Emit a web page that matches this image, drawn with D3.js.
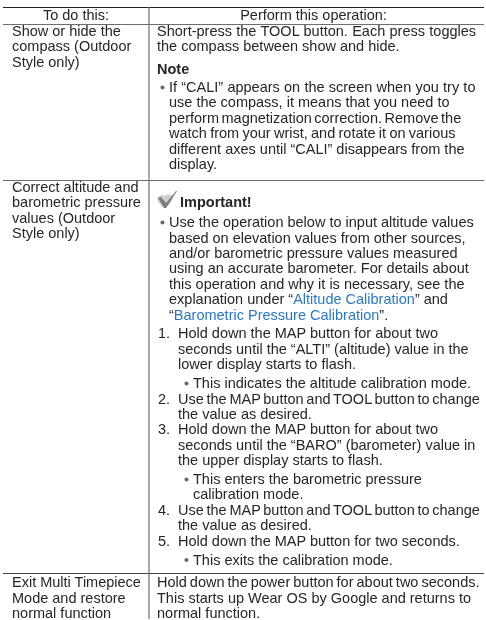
<!DOCTYPE html>
<html><head><meta charset="utf-8">
<script src="https://cdn.jsdelivr.net/npm/d3@7"></script>
<style>html,body{margin:0;padding:0;background:#fff}svg{display:block}</style>
</head><body><div id="c"></div>
<script>
const headers = ["To do this:", "Perform this operation:"];
const leftRows = [
  ["Show or hide the", "compass (Outdoor", "Style only)"],
  ["Correct altitude and", "barometric pressure", "values (Outdoor", "Style only)"],
  ["Exit Multi Timepiece", "Mode and restore", "normal function"]
];
const rightRow1 = [
  ["p", "Short-press the TOOL button. Each press toggles"],
  ["p", "the compass between show and hide."],
  ["h", "Note"],
  ["b", "If “CALI” appears on the screen when you try to"],
  ["c", "use the compass, it means that you need to"],
  ["c", "perform magnetization correction. Remove the"],
  ["c", "watch from your wrist, and rotate it on various"],
  ["c", "different axes until “CALI” disappears from the"],
  ["c", "display."]
];
const rightRow2 = [
  ["i", "Important!"],
  ["b", "Use the operation below to input altitude values"],
  ["c", "based on elevation values from other sources,"],
  ["c", "and/or barometric pressure values measured"],
  ["c", "using an accurate barometer. For details about"],
  ["c", "this operation and why it is necessary, see the"],
  ["c", "explanation under “|Altitude Calibration|” and"],
  ["c", "“|Barometric Pressure Calibration|”."],
  ["n", "Hold down the MAP button for about two", "1."],
  ["m", "seconds until the “ALTI” (altitude) value in the"],
  ["m", "lower display starts to flash."],
  ["s", "This indicates the altitude calibration mode."],
  ["n", "Use the MAP button and TOOL button to change", "2."],
  ["m", "the value as desired."],
  ["n", "Hold down the MAP button for about two", "3."],
  ["m", "seconds until the “BARO” (barometer) value in"],
  ["m", "the upper display starts to flash."],
  ["s", "This enters the barometric pressure"],
  ["t", "calibration mode."],
  ["n", "Use the MAP button and TOOL button to change", "4."],
  ["m", "the value as desired."],
  ["n", "Hold down the MAP button for two seconds.", "5."],
  ["s", "This exits the calibration mode."]
];
const rightRow3 = [
  ["p", "Hold down the power button for about two seconds."],
  ["p", "This starts up Wear OS by Google and returns to"],
  ["p", "normal function."]
];

const W = 486, H = 620, INK = "#262626", RULE = "#6e6e6e", LINK = "#2b78c5";
const FS = 14.5, LH = 15.42;
const svg = d3.select("#c").append("svg").attr("width", W).attr("height", H);
const defs = svg.append("defs");
defs.append("filter").attr("id","soft").attr("x","-5%").attr("y","-5%").attr("width","110%").attr("height","110%")
  .append("feGaussianBlur").attr("stdDeviation",0.3);
const g = svg.append("g").attr("filter","url(#soft)").attr("font-family", "'Liberation Sans', Arial, sans-serif")
  .attr("font-size", FS).attr("fill", INK);

const xCol = d3.scaleOrdinal().domain(["L","p","h","i","b","c","n","m","s","t"])
  .range([12,157,157,180,169,169,178,178,193,193]);
const extraBefore = (k, prev) => {
  if (k === "h") return 7.1;
  if (k === "b") return prev === "i" ? 4.7 : 2.6;
  if (k === "n") return prev === "c" ? 3.4 : 0;
  if (k === "s") return 3.4;
  return 0;
};
function layout(lines, y0) {
  let y = y0, prev = null;
  return lines.map(l => {
    if (prev !== null) y += LH + extraBefore(l[0], prev);
    prev = l[0];
    return {k: l[0], text: l[1], num: l[2], y};
  });
}
const right = [...layout(rightRow1, 36), ...layout(rightRow2, 207), ...layout(rightRow3, 587.3)];
const left = leftRows.flatMap((r,i) => r.map((t,j) => ({k:"L", text:t, y:[36,191.7,587.3][i] + j*LH})));

// rules
const rules = [{y:7,c:"#222"},{y:24,c:RULE},{y:180,c:RULE},{y:573,c:"#444"}];
g.selectAll("line.h").data(rules).join("line").attr("class","h")
  .attr("x1",3).attr("x2",484).attr("y1",d=>d.y+.5).attr("y2",d=>d.y+.5).attr("stroke",d=>d.c).attr("stroke-width",1.2);
g.append("line").attr("x1",149).attr("x2",149).attr("y1",7).attr("y2",619).attr("stroke",RULE).attr("stroke-width",1.2);

// header
g.selectAll("text.hd").data(headers).join("text").attr("class","hd")
  .attr("x",(d,i)=>[76,313.5][i]).attr("y",20).attr("text-anchor","middle").text(d=>d);

// body
const wordFit = {
  "Use the MAP button and TOOL button to change": -1.3,
  "Hold down the power button for about two seconds.": -1,
  "perform magnetization correction. Remove the": -1.5,
  "watch from your wrist, and rotate it on various": -0.75,
  "Short-press the TOOL button. Each press toggles": 0.3,
  "If “CALI” appears on the screen when you try to": 0.2
};
const rows = [...left, ...right];
const tx = g.selectAll("text.b").data(rows).join("text").attr("class","b")
  .attr("x",d=>xCol(d.k)).attr("y",d=>d.y)
  .attr("word-spacing",d=>wordFit[d.text]||null)
  .attr("font-weight",d=>d.k==="h"||d.k==="i"?"bold":null);
tx.each(function(d){
  const parts = d.text.split("|");
  d3.select(this).selectAll("tspan").data(parts).join("tspan")
    .attr("fill",(p,i)=>i===1?LINK:null).text(p=>p);
});
// bullets
g.selectAll("circle.bu").data(right.filter(d=>d.k==="b"||d.k==="s")).join("circle").attr("class","bu")
  .attr("cx",d=>d.k==="b"?162.5:186.5).attr("cy",d=>d.y-4.5).attr("r",2).attr("fill","#666");
// step numbers
g.selectAll("text.num").data(right.filter(d=>d.num)).join("text").attr("class","num")
  .attr("x",158).attr("y",d=>d.y).text(d=>d.num);
// icon
const ic = g.append("g").attr("transform","translate(157,193)");
ic.append("path").attr("d","M0 5 Q4 0 7.5 3 Q11 0 16 3 Q16 10 8 15 Q1 11 0 5Z").attr("fill","#cfcfcf");
ic.append("path").attr("d","M1 5 L4 4 L9 10 L19 -2 L20 -2 L9 15 L7 15 Z").attr("fill","#7d7d7d");
</script></body></html>
